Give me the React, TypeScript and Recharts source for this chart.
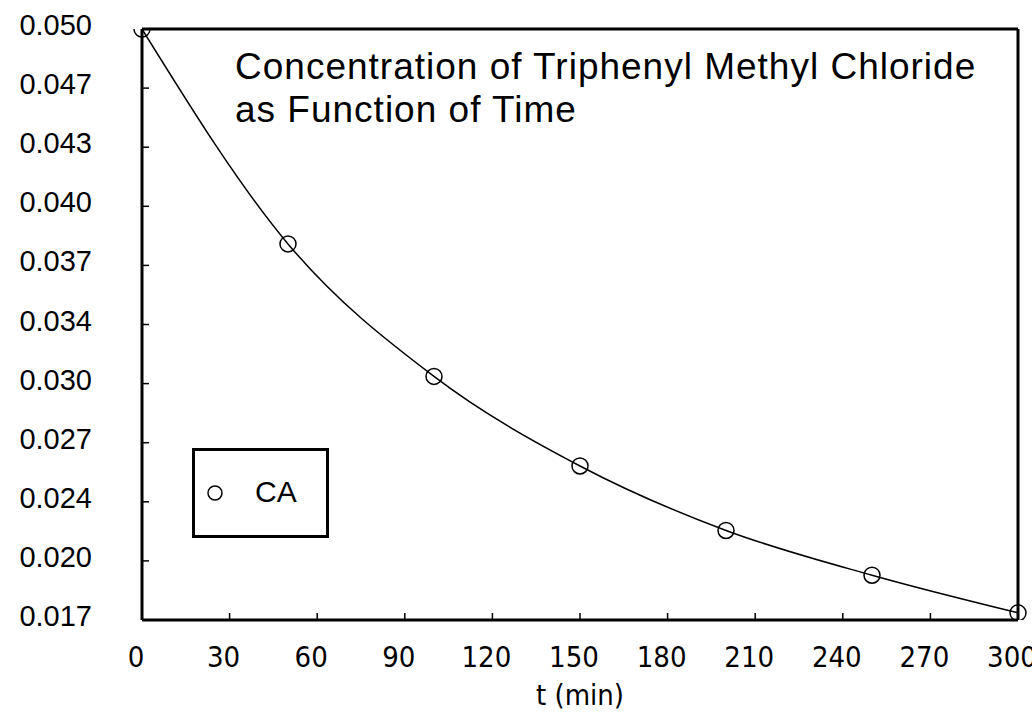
import { Legend, Line, LineChart, ReferenceLine, XAxis, YAxis } from 'recharts';

// t (min) and CA (mol/dm3)
const TIMES = [0, 50, 100, 150, 200, 250, 300];
const CA = [0.05, 0.038, 0.0306, 0.0256, 0.022, 0.0195, 0.0174];

const X_TICKS = [0, 30, 60, 90, 120, 150, 180, 210, 240, 270, 300];
const X_TICK_LABELS = ['0', '30', '60', '90', '120', '150', '180', '210', '240', '270', '300'];
const Y_TICKS = [0.017, 0.0203, 0.0236, 0.0269, 0.0302, 0.0335, 0.0368, 0.0401, 0.0434, 0.0467, 0.05];
const Y_TICK_LABELS = ['0.017', '0.020', '0.024', '0.027', '0.030', '0.034', '0.037', '0.040', '0.043', '0.047', '0.050'];

const TITLE_LINES = ['Concentration of Triphenyl Methyl Chloride', 'as Function of Time'];
const SERIES_NAME = 'CA';

const data = TIMES.map((t, i) => ({ t, ca: CA[i] }));

const NARROW = '"Liberation Sans Narrow", "DejaVu Sans Condensed", "Arial Narrow", sans-serif';
const SANS = '"Liberation Sans", Arial, Helvetica, sans-serif';

function XTick({ x, y, payload }: any) {
  const i = X_TICKS.indexOf(payload.value);
  return (
    <g>
      {i > 0 && i < X_TICKS.length - 1 && <line x1={x} x2={x} y1={y} y2={y - 7} stroke="#000" strokeWidth={1.5} />}
      <text x={x - 6} y={y + 47} textAnchor="middle" fontFamily={NARROW} fontSize={29} fill="#000">
        {X_TICK_LABELS[i]}
      </text>
    </g>
  );
}

function YTick({ x, y, payload }: any) {
  const i = Y_TICKS.indexOf(payload.value);
  return (
    <g>
      {i > 0 && i < Y_TICKS.length - 1 && <line x1={x} x2={x + 7} y1={y} y2={y} stroke="#000" strokeWidth={1.5} />}
      <text x={x - 50} y={y + 6} textAnchor="end" fontFamily={SANS} fontSize={29} fill="#000">
        {Y_TICK_LABELS[i]}
      </text>
    </g>
  );
}

function LegendBox() {
  return (
    <div style={{ boxSizing: 'border-box', width: 137, height: 90, border: '3px solid #000', background: '#fff', position: 'relative' }}>
      <svg width={131} height={84} style={{ position: 'absolute', left: 0, top: 0 }}>
        <circle cx={20} cy={42} r={7} fill="none" stroke="#000" strokeWidth={1.5} />
        <text x={60} y={51} fontFamily={SANS} fontSize={30} fill="#000">
          {SERIES_NAME}
        </text>
      </svg>
    </div>
  );
}

export default function App() {
  return (
    <div style={{ position: 'absolute', left: 0, top: 0, width: 1032, height: 717, overflow: 'hidden', background: '#fff' }}>
      <LineChart width={1032} height={717} data={data} margin={{ top: 29, right: 14, bottom: 0, left: 0 }}>
        <XAxis
          dataKey="t"
          type="number"
          domain={[0, 300]}
          ticks={X_TICKS}
          interval={0}
          height={97}
          tickSize={0}
          tickMargin={0}
          tickLine={false}
          tick={<XTick />}
          axisLine={{ stroke: '#000', strokeWidth: 3 }}
          label={{ value: 't (min)', position: 'insideBottom', offset: 12, fontFamily: NARROW, fontSize: 29, fill: '#000' }}
        />
        <YAxis
          type="number"
          domain={[0.017, 0.05]}
          ticks={Y_TICKS}
          interval={0}
          width={142}
          tickSize={0}
          tickMargin={0}
          tickLine={false}
          tick={<YTick />}
          axisLine={{ stroke: '#000', strokeWidth: 3 }}
          allowDataOverflow
        />
        {/* top and right frame */}
        <ReferenceLine y={0.05} stroke="#000" strokeWidth={3} ifOverflow="visible" />
        <ReferenceLine x={300} stroke="#000" strokeWidth={3} ifOverflow="visible" />
        <Legend
          layout="vertical"
          align="center"
          verticalAlign="middle"
          content={<LegendBox />}
          wrapperStyle={{ left: 192, top: 448, width: 137, height: 90 }}
        />
        <Line
          dataKey="ca"
          name={SERIES_NAME}
          type="monotone"
          stroke="#000"
          strokeWidth={1.5}
          dot={{ r: 8, stroke: '#000', strokeWidth: 1.5, fill: 'none' }}
          isAnimationActive={false}
        />
      </LineChart>
      <svg width={1032} height={717} style={{ position: 'absolute', left: 0, top: 0, pointerEvents: 'none' }}>
        <text x={235} y={79} fontFamily={SANS} fontSize={37} letterSpacing={1} fill="#000">
          {TITLE_LINES[0]}
        </text>
        <text x={235} y={122} fontFamily={SANS} fontSize={37} letterSpacing={1} fill="#000">
          {TITLE_LINES[1]}
        </text>
      </svg>
    </div>
  );
}
